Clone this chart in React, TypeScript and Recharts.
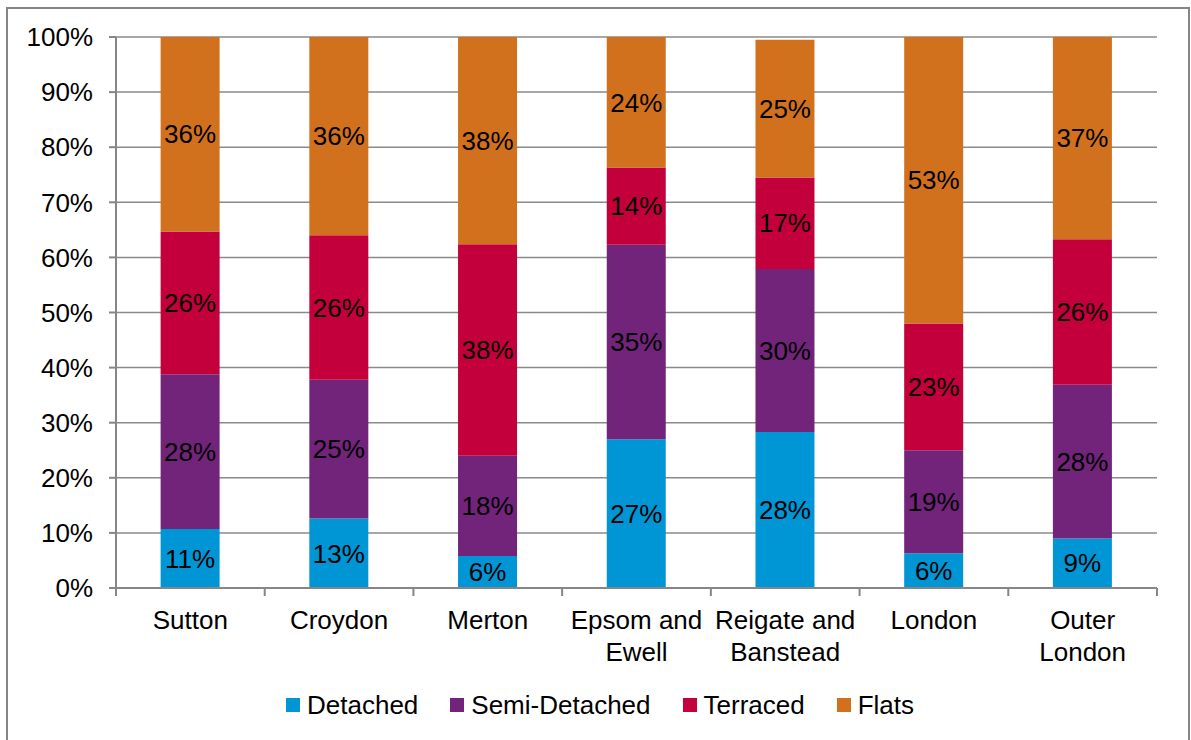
import React from "react";
import { Bar, BarChart, CartesianGrid, LabelList, Legend, XAxis, YAxis } from "recharts";

// Share of dwellings by type, per area (percent)
const areas = ["Sutton", "Croydon", "Merton", "Epsom and Ewell", "Reigate and Banstead", "London", "Outer London"];
const detached = [10.7, 12.6, 5.8, 27.0, 28.3, 6.3, 9.0];
const semiDetached = [28.1, 25.2, 18.2, 35.3, 29.6, 18.7, 27.9];
const terraced = [25.9, 26.2, 38.4, 14.0, 16.6, 23.0, 26.4];
const flats = [35.5, 36.0, 37.6, 23.7, 25.0, 52.6, 36.7];
const percentTicks = [0, 10, 20, 30, 40, 50, 60, 70, 80, 90, 100];

const seriesKeys = ["detached", "semiDetached", "terraced", "flats"];
const seriesNames = ["Detached", "Semi-Detached", "Terraced", "Flats"];

const COLORS: Record<string, string> = {
  detached: "#0096D6",
  semiDetached: "#71247A",
  terraced: "#C4003C",
  flats: "#D2711D",
};

const FONT = "'Liberation Sans', Arial, Helvetica, sans-serif";
const FONT_SIZE = 26;
const AXIS_GREY = "#868686";

const data = areas.map((area, i) => ({
  area,
  detached: detached[i],
  semiDetached: semiDetached[i],
  terraced: terraced[i],
  flats: flats[i],
}));

let measureCtx: CanvasRenderingContext2D | null = null;

function wrapLabel(text: string, maxWidth: number): string[] {
  if (!measureCtx) measureCtx = document.createElement("canvas").getContext("2d");
  const words = text.split(" ");
  if (!measureCtx) return [text];
  measureCtx.font = `${FONT_SIZE}px ${FONT}`;
  const lines: string[] = [];
  let line = "";
  for (const word of words) {
    const test = line ? `${line} ${word}` : word;
    if (line && measureCtx.measureText(test).width > maxWidth) {
      lines.push(line);
      line = word;
    } else {
      line = test;
    }
  }
  lines.push(line);
  return lines;
}

// category label plus tick marks at the band edges
function AreaTick(props: any) {
  const { x, y, payload, index, visibleTicksCount } = props;
  const half = payload.offset ?? 0;
  const axisY = y - 8;
  const lines = wrapLabel(String(payload.value), half * 2 - 4);
  return (
    <g>
      <line x1={x - half} x2={x - half} y1={axisY} y2={y} stroke={AXIS_GREY} strokeWidth={2} />
      {index === visibleTicksCount - 1 && (
        <line x1={x + half} x2={x + half} y1={axisY} y2={y} stroke={AXIS_GREY} strokeWidth={2} />
      )}
      <text x={x} y={y} textAnchor="middle" fill="#000" fontSize={FONT_SIZE} fontFamily={FONT}>
        {lines.map((line, i) => (
          <tspan key={i} x={x} dy={i === 0 ? 33 : 31.5}>
            {line}
          </tspan>
        ))}
      </text>
    </g>
  );
}

// legend keeps the stacking order, not alphabetical
function LegendRow(props: any) {
  const payload = [...(props.payload ?? [])].sort(
    (a: any, b: any) => seriesNames.indexOf(a.value) - seriesNames.indexOf(b.value)
  );
  return (
    <div style={{ display: "flex", alignItems: "center", height: 50, fontFamily: FONT, fontSize: FONT_SIZE }}>
      {payload.map((entry: any) => (
        <div key={entry.value} style={{ display: "flex", alignItems: "center", marginRight: 32 }}>
          <span style={{ width: 14, height: 14, background: entry.color, marginRight: 7, display: "inline-block" }} />
          <span style={{ color: "#000", whiteSpace: "nowrap" }}>{entry.value}</span>
        </div>
      ))}
    </div>
  );
}

const pct = (v: any) => `${Math.round(Number(v))}%`;

export default function App() {
  return (
    <div
      style={{
        position: "fixed",
        left: 0,
        top: 0,
        width: 1191,
        height: 740,
        overflow: "hidden",
        background: "#fff",
        fontFamily: FONT,
      }}
    >
      <div
        style={{
          position: "absolute",
          left: 6,
          top: 7,
          width: 1184,
          height: 760,
          border: `2px solid ${AXIS_GREY}`,
          boxSizing: "border-box",
        }}
      />
      <div style={{ position: "absolute", left: 0, top: 0 }}>
        <BarChart
          width={1191}
          height={740}
          data={data}
          margin={{ top: 37, right: 34, left: 0, bottom: 0 }}
          barCategoryGap="30%"
          style={{ fontFamily: FONT }}
        >
          <CartesianGrid vertical={false} stroke="#8a8a8a" strokeWidth={1.5} />
          <XAxis
            dataKey="area"
            height={92}
            interval={0}
            tickSize={8}
            tickMargin={0}
            tickLine={false}
            axisLine={{ stroke: AXIS_GREY, strokeWidth: 2 }}
            tick={<AreaTick />}
          />
          <YAxis
            width={116}
            domain={[0, 100]}
            ticks={percentTicks}
            allowDataOverflow
            tickFormatter={(v: number) => `${v}%`}
            tickSize={7}
            tickMargin={16}
            tickLine={{ stroke: AXIS_GREY, strokeWidth: 2 }}
            axisLine={{ stroke: AXIS_GREY, strokeWidth: 2 }}
            tick={{ fill: "#000", fontSize: FONT_SIZE, fontFamily: FONT }}
          />
          <Legend
            verticalAlign="bottom"
            height={60}
            wrapperStyle={{ left: 286, width: 900 }}
            content={<LegendRow />}
          />
          {seriesKeys.map((key, i) => (
            <Bar
              key={key}
              dataKey={key}
              name={seriesNames[i]}
              stackId="dwellings"
              fill={COLORS[key]}
              isAnimationActive={false}
            >
              <LabelList
                dataKey={key}
                position="center"
                formatter={pct}
                fill="#000"
                fontSize={FONT_SIZE}
                fontFamily={FONT}
              />
            </Bar>
          ))}
        </BarChart>
      </div>
    </div>
  );
}
